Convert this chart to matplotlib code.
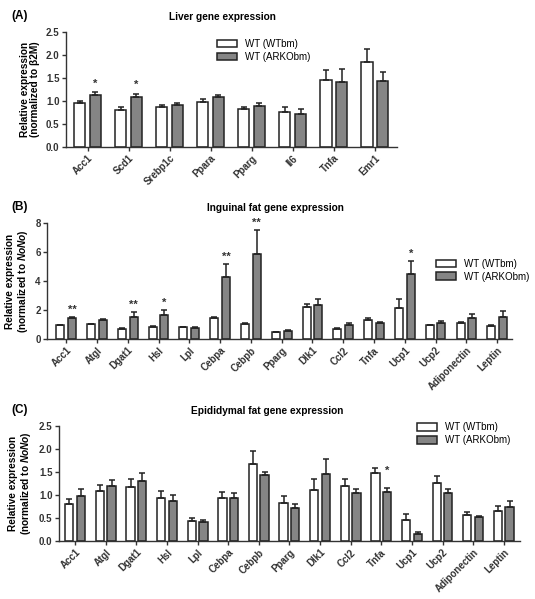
import numpy as np
import matplotlib
matplotlib.use("Agg")
import matplotlib.pyplot as plt

plt.rcParams['font.family'] = ['Liberation Sans', 'DejaVu Sans']
plt.rcParams['font.weight'] = 'bold'
plt.rcParams['mathtext.fontset'] = 'custom'
plt.rcParams['mathtext.it'] = 'Liberation Sans:italic:bold'
plt.rcParams['mathtext.rm'] = 'Liberation Sans:bold'

# ---- data ----
liver_genes = ['Acc1', 'Scd1', 'Srebp1c', 'Ppara', 'Pparg', 'Il6', 'Tnfa', 'Emr1']
liver_wt = [0.96, 0.81, 0.88, 0.98, 0.83, 0.77, 1.46, 1.84]
liver_wt_err = [0.05, 0.05, 0.03, 0.06, 0.05, 0.11, 0.21, 0.28]
liver_ko = [1.13, 1.08, 0.92, 1.08, 0.89, 0.72, 1.42, 1.44]
liver_ko_err = [0.06, 0.08, 0.04, 0.06, 0.06, 0.11, 0.27, 0.20]
liver_sig = ['*', '*', '', '', '', '', '', '']

fat_genes = ['Acc1', 'Atgl', 'Dgat1', 'Hsl', 'Lpl', 'Cebpa', 'Cebpb', 'Pparg',
             'Dlk1', 'Ccl2', 'Tnfa', 'Ucp1', 'Ucp2', 'Adiponectin', 'Leptin']
ing_wt = [0.95, 1.02, 0.68, 0.82, 0.80, 1.45, 1.02, 0.48, 2.20, 0.69, 1.31, 2.14, 0.94, 1.10, 0.90]
ing_wt_err = [0.05, 0.04, 0.05, 0.05, 0.03, 0.06, 0.10, 0.03, 0.25, 0.06, 0.12, 0.60, 0.05, 0.07, 0.05]
ing_ko = [1.42, 1.28, 1.55, 1.65, 0.78, 4.25, 5.85, 0.55, 2.34, 0.99, 1.10, 4.46, 1.10, 1.44, 1.55]
ing_ko_err = [0.10, 0.10, 0.30, 0.35, 0.08, 0.95, 1.70, 0.06, 0.45, 0.15, 0.10, 0.95, 0.15, 0.30, 0.40]
ing_sig = ['**', '', '**', '*', '', '**', '**', '', '', '', '', '*', '', '', '']

epi_wt = [0.80, 1.09, 1.17, 0.94, 0.43, 0.94, 1.68, 0.83, 1.11, 1.19, 1.47, 0.45, 1.26, 0.56, 0.66]
epi_wt_err = [0.11, 0.13, 0.18, 0.15, 0.07, 0.13, 0.28, 0.15, 0.23, 0.15, 0.12, 0.14, 0.15, 0.08, 0.10]
epi_ko = [0.98, 1.19, 1.30, 0.86, 0.41, 0.93, 1.43, 0.72, 1.46, 1.04, 1.07, 0.16, 1.04, 0.52, 0.75]
epi_ko_err = [0.15, 0.14, 0.18, 0.13, 0.05, 0.11, 0.08, 0.08, 0.33, 0.08, 0.09, 0.04, 0.09, 0.03, 0.12]
epi_sig = ['', '', '', '', '', '', '', '', '', '', '*', '', '', '', '']

labels = ['WT (WTbm)', 'WT (ARKObm)']
grey = '#858585'


def panel(fig, rect, genes, wt, wt_err, ko, ko_err, sig, ylim, yticks, yfmt,
          xlim, ylabel, title, title_x, tag, leg_pos, star_pad, width=0.27, off=0.19):
    ax = fig.add_axes(rect)
    x = np.arange(len(genes))
    ax.bar(x - off, wt, width, color='white', edgecolor='#222222', linewidth=1.1,
           yerr=[np.zeros(len(wt)), wt_err], capsize=2.2,
           error_kw=dict(elinewidth=1.1, capthick=1.1, ecolor='#222222'), label=labels[0])
    ax.bar(x + off, ko, width, color=grey, edgecolor='#222222', linewidth=1.1,
           yerr=[np.zeros(len(ko)), ko_err], capsize=2.2,
           error_kw=dict(elinewidth=1.1, capthick=1.1, ecolor='#222222'), label=labels[1])
    for i, s in enumerate(sig):
        if s:
            ax.text(x[i] + off, ko[i] + ko_err[i] + star_pad, s, ha='center', va='bottom',
                    fontsize=8, fontweight='bold', color='#333333')
    ax.set_xlim(*xlim)
    ax.set_ylim(*ylim)
    ax.set_yticks(yticks)
    ax.set_yticklabels([yfmt.format(v) for v in yticks])
    ax.set_xticks(x)
    ax.set_xticklabels(genes, rotation=45, ha='right', rotation_mode='anchor')
    ax.spines['top'].set_visible(False)
    ax.spines['right'].set_visible(False)
    for sp in ['left', 'bottom']:
        ax.spines[sp].set_linewidth(1.0)
        ax.spines[sp].set_color('#333333')
    ax.tick_params(axis='both', labelsize=7, width=1.0, length=3, colors='#333333', pad=1.5)
    ax.tick_params(axis='x', labelsize=7)
    for t in ax.get_xticklabels() + ax.get_yticklabels():
        t.set_fontweight('bold')
    ax.set_ylabel(ylabel, fontsize=7.3, fontweight='bold', labelpad=4, linespacing=1.1)
    fig.text(title_x, rect[1] + rect[3] + 0.025, title, ha='center', va='center',
             fontsize=7.3, fontweight='bold')
    fig.text(0.022, rect[1] + rect[3] + 0.027, tag, ha='left', va='center',
             fontsize=8.5, fontweight='bold')
    ax.legend(loc='upper left', bbox_to_anchor=leg_pos, bbox_transform=fig.transFigure,
              frameon=False, prop={'size': 7, 'weight': 'normal'}, handlelength=2.1,
              handleheight=0.85, handletextpad=0.8, labelspacing=0.3,
              borderaxespad=0, borderpad=0)
    return ax


fig = plt.figure(figsize=(5.35, 5.99), dpi=100)

panel(fig, [0.123, 0.7546, 0.619, 0.192], liver_genes, liver_wt, liver_wt_err,
      liver_ko, liver_ko_err, liver_sig, (0, 2.5), [0, 0.5, 1.0, 1.5, 2.0, 2.5], '{:.1f}',
      (-0.53, 7.54), 'Relative expression\n(normalized to β2M)',
      'Liver gene expression', 0.415, '(A)', (0.405, 0.935), 0.08)

panel(fig, [0.088, 0.434, 0.869, 0.1937], fat_genes, ing_wt, ing_wt_err,
      ing_ko, ing_ko_err, ing_sig, (0, 8), [0, 2, 4, 6, 8], '{:.0f}',
      (-0.62, 14.48), 'Relative expression\n(normalized to $\\mathit{NoNo}$)',
      'Inguinal fat gene expression', 0.514, '(B)', (0.815, 0.568), 0.15, width=0.26, off=0.19)

panel(fig, [0.110, 0.0968, 0.862, 0.192], fat_genes, epi_wt, epi_wt_err,
      epi_ko, epi_ko_err, epi_sig, (0, 2.5), [0, 0.5, 1.0, 1.5, 2.0, 2.5], '{:.1f}',
      (-0.53, 14.53), 'Relative expression\n(normalized to $\\mathit{NoNo}$)',
      'Epididymal fat gene expression', 0.50, '(C)', (0.779, 0.295), 0.25, width=0.27, off=0.19)

fig.savefig('out.png', dpi=100)
